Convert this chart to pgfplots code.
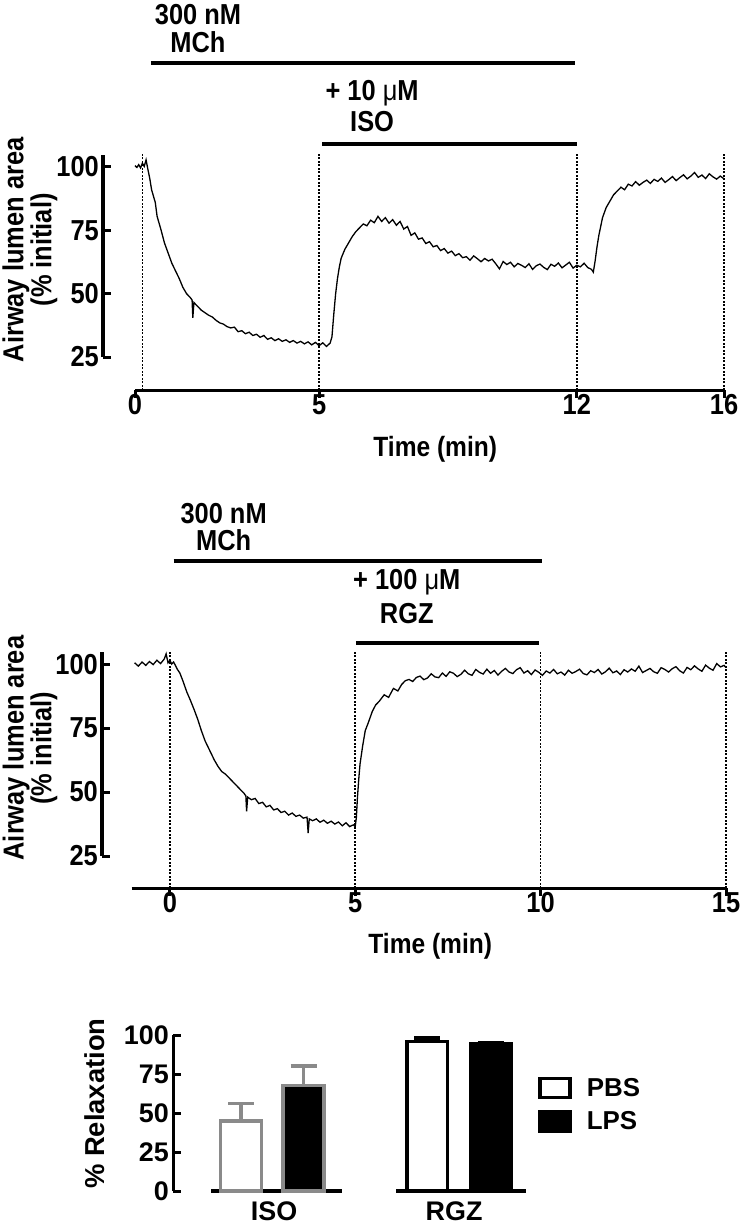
\documentclass[border=0pt]{standalone}
\usepackage{fontspec}
\setmainfont{Liberation Sans}[FakeStretch=0.88]
\newfontfamily\barfont{Liberation Sans}
\usepackage{pgfplots}
\pgfplotsset{compat=1.18}
\definecolor{barGray}{HTML}{8A8A8A}

\pgfplotstableread{
t v
0.00 100.5
0.05 99.8
0.10 100.9
0.15 99.6
0.20 101.5
0.25 100.2
0.30 102.8
0.35 99.0
0.40 95.5
0.45 91.0
0.50 88.5
0.55 86.0
0.60 80.5
0.65 78.0
0.70 75.5
0.80 70.0
0.90 66.0
1.00 62.0
1.10 59.0
1.20 56.0
1.30 52.5
1.40 50.0
1.50 48.5
1.55 47.5
1.57 40.5
1.60 46.5
1.70 45.0
1.80 43.5
1.90 42.5
2.00 41.5
2.10 40.8
2.20 39.5
2.30 38.5
2.40 38.0
2.50 37.0
2.60 36.5
2.70 36.8
2.80 35.0
2.90 35.4
3.00 34.2
3.10 34.8
3.20 33.5
3.30 34.0
3.40 32.8
3.50 33.5
3.60 32.0
3.70 32.6
3.80 31.5
3.90 32.2
4.00 31.2
4.10 31.8
4.20 30.8
4.30 31.5
4.40 30.5
4.50 31.2
4.60 30.2
4.70 31.0
4.80 29.8
4.90 30.8
5.00 29.5
5.10 30.6
5.20 29.2
5.30 30.5
5.35 33.0
5.40 42.0
5.45 50.0
5.50 56.0
5.55 60.5
5.60 64.0
5.70 67.5
5.80 70.0
5.90 72.5
6.00 74.5
6.10 76.0
6.20 77.5
6.30 76.8
6.40 79.0
6.50 78.0
6.60 80.5
6.70 78.5
6.80 80.0
6.90 77.8
7.00 79.2
7.10 77.0
7.20 78.5
7.30 75.5
7.40 76.5
7.50 73.0
7.60 74.0
7.70 71.5
7.80 72.0
7.90 69.8
8.00 70.5
8.10 68.5
8.20 69.0
8.30 67.0
8.40 67.8
8.50 66.0
8.60 66.8
8.70 65.0
8.80 65.8
8.90 64.2
9.00 64.6
9.10 63.2
9.20 64.9
9.30 63.8
9.40 62.6
9.50 63.9
9.60 62.9
9.70 63.6
9.80 61.8
9.90 59.8
10.00 62.7
10.10 61.5
10.20 62.4
10.30 60.6
10.40 61.9
10.50 61.2
10.60 60.3
10.70 61.8
10.80 59.6
10.90 61.0
11.00 61.7
11.10 60.4
11.20 59.5
11.30 61.6
11.40 60.8
11.50 62.1
11.60 60.2
11.70 61.3
11.80 62.4
11.90 60.1
12.00 61.2
12.10 60.6
12.20 62.0
12.30 60.3
12.40 59.6
12.45 58.5
12.50 63.0
12.55 68.5
12.60 73.0
12.65 76.5
12.70 80.0
12.80 84.0
12.90 86.5
13.00 89.0
13.10 90.5
13.20 92.0
13.30 91.0
13.40 93.2
13.50 92.5
13.60 94.2
13.70 92.8
13.80 93.9
13.90 94.8
14.00 93.5
14.10 95.1
14.20 94.3
14.30 95.6
14.40 93.9
14.50 95.0
14.60 96.2
14.70 94.6
14.80 95.8
14.90 96.9
15.00 95.3
15.10 96.4
15.20 97.8
15.30 95.9
15.40 96.8
15.50 95.4
15.60 97.3
15.70 96.1
15.80 95.2
15.90 96.4
16.00 95.3
}\isotrace

\pgfplotstableread{
t v
-0.95 100.5
-0.85 99.2
-0.75 100.8
-0.65 99.5
-0.55 101.0
-0.45 99.8
-0.35 101.5
-0.25 100.2
-0.15 102.0
-0.10 104.0
-0.05 100.5
0.00 101.5
0.05 100.0
0.10 100.8
0.15 99.5
0.20 98.0
0.27 96.5
0.35 93.5
0.46 89.0
0.55 86.0
0.66 82.0
0.75 78.5
0.85 74.0
0.95 70.0
1.05 67.0
1.10 65.5
1.20 62.5
1.30 60.0
1.40 58.0
1.50 57.0
1.60 55.5
1.70 54.0
1.80 52.5
1.90 51.0
2.00 49.5
2.05 48.5
2.07 42.5
2.10 48.0
2.20 47.0
2.30 47.5
2.40 45.5
2.50 46.0
2.60 44.2
2.70 44.8
2.80 43.0
2.90 43.5
3.00 42.0
3.10 42.5
3.20 41.0
3.30 41.8
3.40 40.5
3.50 41.0
3.60 39.8
3.70 40.2
3.73 34.0
3.76 39.5
3.85 38.8
3.95 39.5
4.05 38.2
4.15 39.0
4.25 37.8
4.35 38.6
4.45 37.5
4.55 38.3
4.65 36.8
4.75 38.0
4.85 36.5
4.95 37.2
5.00 36.5
5.03 40.0
5.06 48.0
5.10 56.0
5.13 61.0
5.20 68.0
5.27 74.0
5.35 77.0
5.46 81.5
5.55 84.0
5.65 85.5
5.78 88.0
5.90 87.0
6.03 90.5
6.15 89.5
6.25 92.0
6.35 93.5
6.45 94.0
6.55 93.2
6.65 94.8
6.75 95.3
6.85 93.9
6.95 94.6
7.05 96.2
7.15 95.0
7.25 94.7
7.35 96.5
7.45 95.2
7.55 97.0
7.65 96.4
7.75 95.1
7.85 96.0
7.95 97.6
8.05 96.2
8.15 95.6
8.25 97.9
8.35 96.8
8.45 96.1
8.55 98.0
8.65 96.4
8.75 97.5
8.85 95.7
8.95 97.2
9.05 98.3
9.15 96.9
9.25 96.3
9.35 97.8
9.45 98.6
9.55 96.5
9.65 97.4
9.75 95.9
9.85 97.7
9.95 96.8
10.05 95.6
10.15 97.3
10.25 96.5
10.35 97.9
10.45 96.2
10.55 96.9
10.65 95.7
10.75 97.6
10.85 96.4
10.95 97.1
11.05 98.0
11.15 96.3
11.25 95.8
11.35 97.4
11.45 96.7
11.55 97.9
11.65 96.1
11.75 97.0
11.85 98.4
11.95 96.6
12.05 97.3
12.15 95.9
12.25 97.8
12.35 96.9
12.45 98.1
12.55 97.2
12.65 99.2
12.75 96.7
12.85 97.5
12.95 98.3
13.05 97.0
13.15 96.4
13.25 98.6
13.35 97.9
13.45 96.9
13.55 98.2
13.65 99.0
13.75 97.4
13.85 96.5
13.95 98.7
14.05 97.8
14.15 99.3
14.25 98.1
14.35 97.2
14.45 99.6
14.55 98.4
14.65 97.6
14.75 100.2
14.85 98.9
14.95 99.5
15.00 98.6
}\rgztrace

\tikzset{ann/.style={font=\bfseries\fontsize{29}{29}\selectfont}}
\pgfplotsset{
  prism/.style={
    scale only axis, clip=false,
    axis lines*=left, axis line style={draw=none},
    tick align=inside, major tick length=7.5bp,
    xtick style={yshift=-7.5bp, line width=3bp, black},
    ytick style={line width=3bp, black},
    tick label style={font=\bfseries\fontsize{29}{29}\selectfont},
    yticklabel style={inner sep=4bp},
    xticklabel style={yshift=-1bp},
    /pgf/number format/assume math mode=true,
    xlabel style={font=\bfseries\fontsize{28}{28}\selectfont, anchor=center},
    ylabel style={font=\bfseries\fontsize{29}{28}\selectfont, align=center, anchor=center},
  },
  trace/.style={black, line width=1.3bp, no marks, forget plot},
  vdot/.style={black, line width=1.6bp, dash pattern=on 1.6bp off 1.9bp, forget plot},
  axline/.style={black, line width=3bp, forget plot},
  drugline/.style={black, line width=4bp, forget plot},
}

\begin{document}
\begin{tikzpicture}
\useasboundingbox (0,0) rectangle (741bp,-1232bp);

% ---------------- top panel ----------------
\begin{axis}[prism,
  at={(103bp,-390bp)}, anchor=south west,
  width=621bp, height=237bp,
  xmin=-0.87, xmax=16, ymin=12, ymax=105.5,
  xtick={0,5,12,16}, ytick={25,50,75,100},
  xlabel={Time (min)},
  xlabel style={at={(axis description cs:0.535,-0.249)}},
  ylabel={Airway lumen area\\(\% initial)},
  ylabel style={at={(axis description cs:-0.1176,0.591)}},
]
\addplot[axline] coordinates {(0,12) (16,12)};
\addplot[axline] coordinates {(-0.87,25) (-0.87,104.7)};
\addplot[vdot] coordinates {(0.2,12) (0.2,105.5)};
\addplot[vdot] coordinates {(5,12) (5,105.5)};
\addplot[vdot] coordinates {(12,12) (12,105.5)};
\addplot[vdot] coordinates {(16,12) (16,105.5)};
\addplot[trace] table[x=t,y=v] {\isotrace};
\addplot[drugline] coordinates {(0.43,141.1) (11.95,141.1)};
\addplot[drugline] coordinates {(5.08,109.1) (12.0,109.1)};
\node[ann] at (axis cs:1.71,160) {300 nM};
\node[ann] at (axis cs:1.71,149.3) {MCh};
\node[ann] at (axis cs:6.44,129.2) {+ 10 {\mdseries μ}M};
\node[ann] at (axis cs:6.44,117.8) {ISO};
\end{axis}

% ---------------- middle panel ----------------
\begin{axis}[prism,
  at={(102bp,-888bp)}, anchor=south west,
  width=624bp, height=238bp,
  xmin=-1.83, xmax=15, ymin=12.5, ymax=105.5,
  xtick={0,5,10,15}, ytick={25,50,75,100},
  xlabel={Time (min)},
  xlabel style={at={(axis description cs:0.526,-0.244)}},
  ylabel={Airway lumen area\\(\% initial)},
  ylabel style={at={(axis description cs:-0.1154,0.588)}},
]
\addplot[axline] coordinates {(-1.03,12.5) (15,12.5)};
\addplot[axline] coordinates {(-1.83,25) (-1.83,104.7)};
\addplot[vdot] coordinates {(0,12.5) (0,105.5)};
\addplot[vdot] coordinates {(5,12.5) (5,105.5)};
\addplot[vdot] coordinates {(10,12.5) (10,105.5)};
\addplot[vdot] coordinates {(15,12.5) (15,105.5)};
\addplot[trace] table[x=t,y=v] {\rgztrace};
\addplot[drugline] coordinates {(0.1,140.2) (10.05,140.2)};
\addplot[drugline] coordinates {(5.02,108.2) (9.95,108.2)};
\node[ann] at (axis cs:1.45,159) {300 nM};
\node[ann] at (axis cs:1.45,148.4) {MCh};
\node[ann] at (axis cs:6.39,132) {+ 100 {\mdseries μ}M};
\node[ann] at (axis cs:6.39,119.9) {RGZ};
\end{axis}

% ---------------- bar panel ----------------
\begin{axis}[prism,
  at={(173bp,-1191bp)}, anchor=south west,
  width=355.5bp, height=156bp,
  xmin=-1.088, xmax=4.6, ymin=0, ymax=100,
  ytick={0,25,50,75,100},
  xtick={0.53,3.41}, xticklabels={ISO,RGZ},
  xtick style={draw=none},
  tick label style={font=\barfont\bfseries\fontsize{27}{27}\selectfont},
  xticklabel style={yshift=-6bp},
  ylabel={\% Relaxation},
  ylabel style={at={(axis description cs:-0.22,0.56)}, font=\barfont\bfseries\fontsize{27.5}{27.5}\selectfont},
  legend style={at={(axis description cs:1.027,0.735)}, anchor=north west,
    draw=none, fill=none, inner sep=0pt, row sep=11bp, column sep=15bp,
    font=\barfont\bfseries\fontsize{26}{26}\selectfont,
    nodes={inner sep=0pt}},
  legend cell align=left,
  legend columns=1,
  legend image code/.code={\draw[#1] (0bp,-9.5bp) rectangle (30bp,9.5bp);},
]
\addplot[axline, line width=3.5bp] coordinates {(-0.48,0) (1.62,0)};
\addplot[axline, line width=3.5bp] coordinates {(2.48,0) (4.56,0)};
\addplot[axline] coordinates {(-1.088,0) (-1.088,100)};
% ISO PBS
\addplot[ybar, bar shift=0pt, bar width=0.65, fill=white, draw=barGray, line width=3.5bp, forget plot,
  error bars/.cd, y dir=plus, y explicit,
  error bar style={line width=3.5bp, barGray},
  error mark options={rotate=90, mark size=13bp, line width=3.5bp, barGray}]
  coordinates {(0,45) +- (0,11)};
% ISO LPS
\addplot[ybar, bar shift=0pt, bar width=0.65, fill=black, draw=barGray, line width=3.5bp, forget plot,
  error bars/.cd, y dir=plus, y explicit,
  error bar style={line width=3.5bp, barGray},
  error mark options={rotate=90, mark size=13bp, line width=3.5bp, barGray}]
  coordinates {(1,67.5) +- (0,12.5)};
% RGZ PBS
\addplot[ybar, bar shift=0pt, bar width=0.65, fill=white, draw=black, line width=3.5bp, forget plot,
  error bars/.cd, y dir=plus, y explicit,
  error bar style={line width=3.5bp, black},
  error mark options={rotate=90, mark size=13bp, line width=3.5bp, black}]
  coordinates {(2.98,96) +- (0,2)};
% RGZ LPS
\addplot[ybar, bar shift=0pt, bar width=0.65, fill=black, draw=black, line width=3.5bp, forget plot,
  error bars/.cd, y dir=plus, y explicit,
  error bar style={line width=3.5bp, black},
  error mark options={rotate=90, mark size=13bp, line width=3.5bp, black}]
  coordinates {(4,94.5) +- (0,0.6)};
\addlegendimage{fill=white, draw=black, line width=3.5bp}
\addlegendentry{PBS}
\addlegendimage{fill=black, draw=black, line width=3.5bp}
\addlegendentry{LPS}
\end{axis}
\end{tikzpicture}
\end{document}
